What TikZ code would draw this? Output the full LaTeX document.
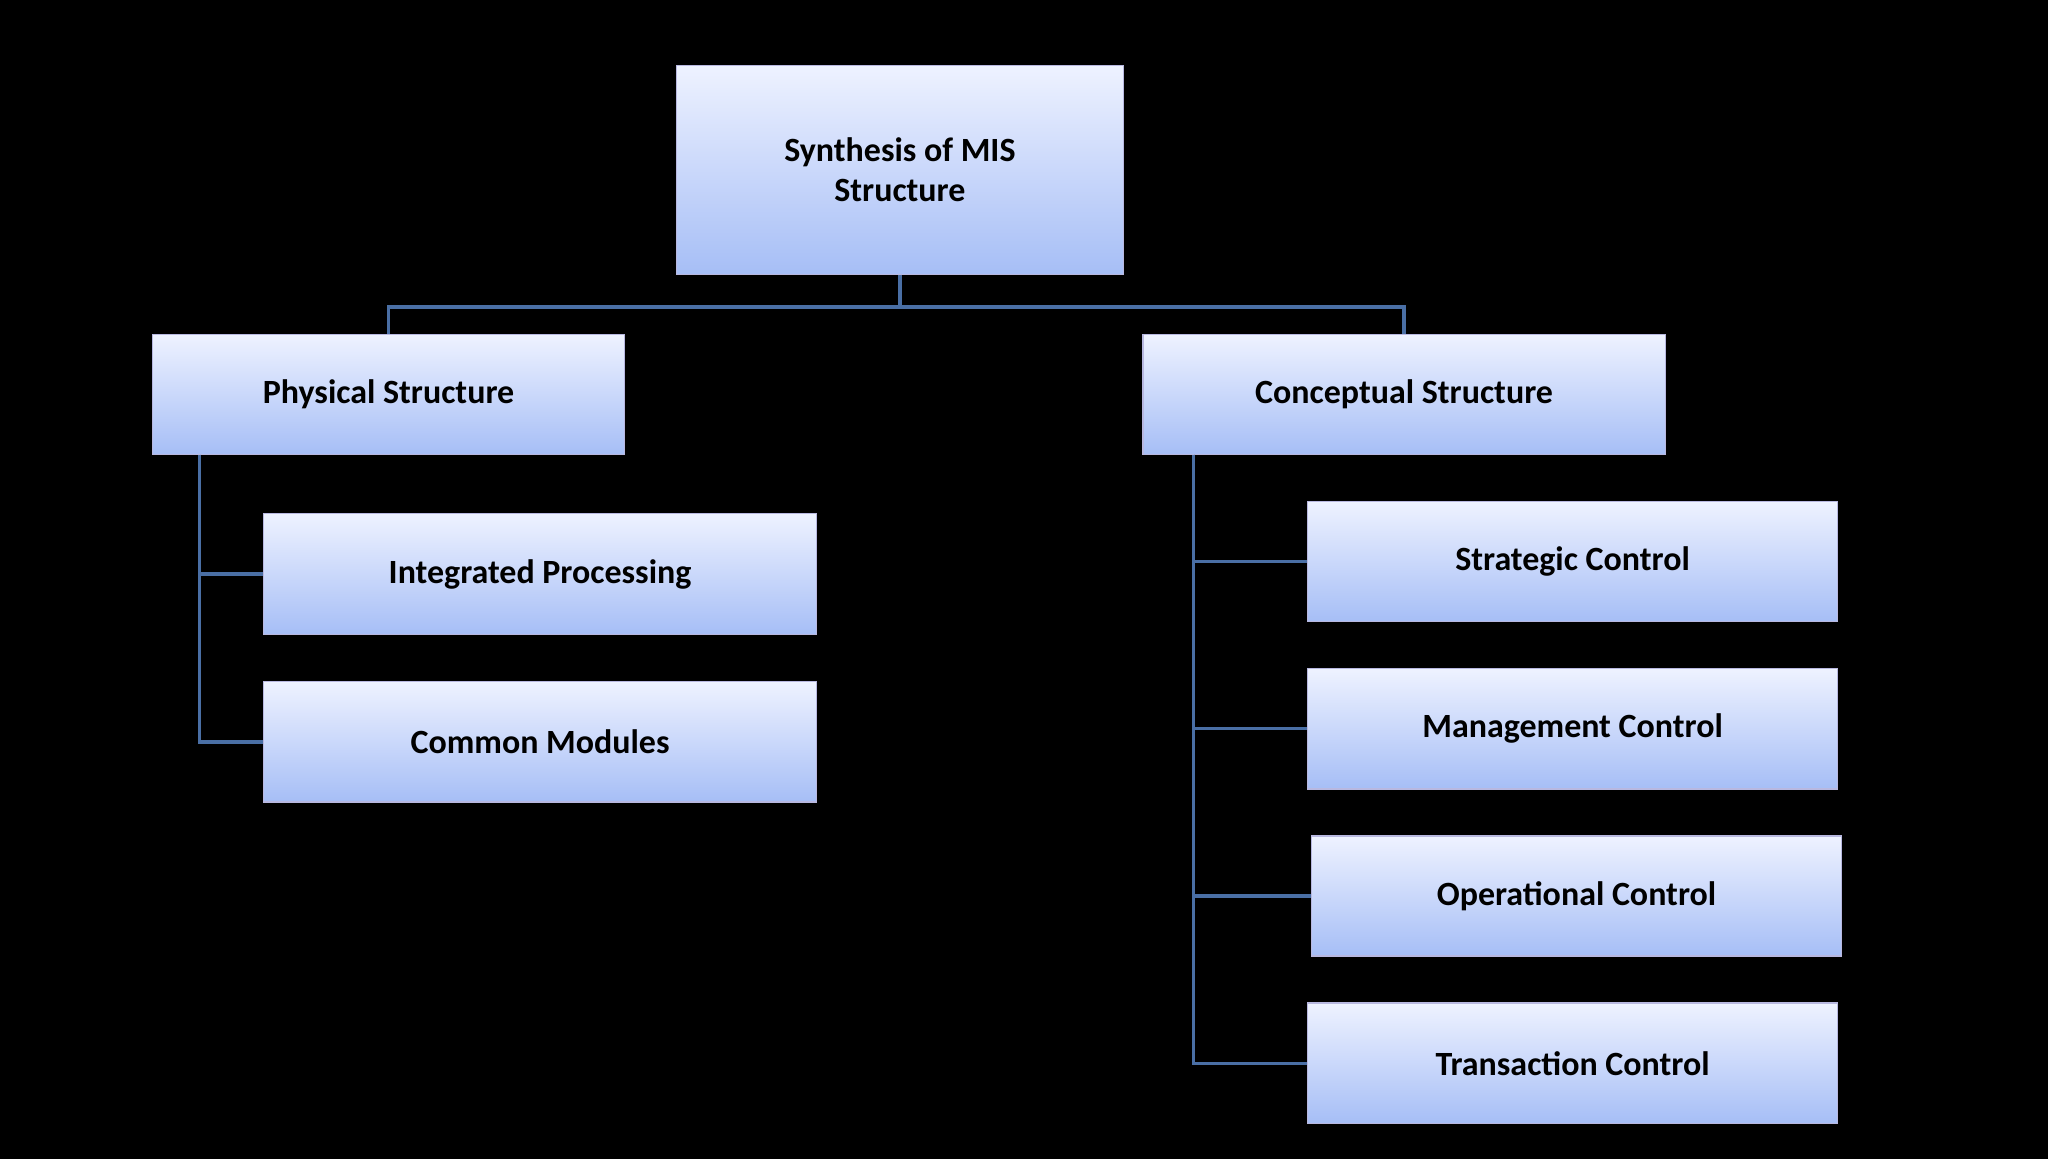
\documentclass[tikz,border=0pt]{standalone}
\usepackage{fontspec}
\setmainfont{Carlito}
\definecolor{topc}{HTML}{EEF2FF}
\definecolor{botc}{HTML}{A6BEF6}
\definecolor{linec}{HTML}{4A6FA5}
\begin{document}
\begin{tikzpicture}[x=1pt,y=-1pt,
  box/.style={draw=gray!60!blue!40,line width=1pt,top color=topc,bottom color=botc,
    font=\fontsize{26}{31}\selectfont\bfseries,align=center,inner sep=0pt},
  con/.style={draw=linec,line width=2.5pt}]
\fill[black] (0,0) rectangle (1568,887);
\newcommand\bx[6]{\node[box,minimum width=#4-#2,minimum height=#5-#3] (#1) at ({(#2+#4)/2},{(#3+#5)/2}) {#6};}
\bx{top}{518}{50}{860}{210}{Synthesis of MIS\\Structure}
\bx{phy}{117}{256}{478}{348}{Physical Structure}
\bx{con}{875}{256}{1275}{348}{Conceptual Structure}
\bx{int}{202}{393}{625}{486}{Integrated Processing}
\bx{com}{202}{522}{625}{614}{Common Modules}
\bx{str}{1001}{384}{1407}{476}{Strategic Control}
\bx{man}{1001}{512}{1407}{604}{Management Control}
\bx{ope}{1004}{640}{1410}{732}{Operational Control}
\bx{tra}{1001}{768}{1407}{860}{Transaction Control}
\coordinate (j) at (689,235);
\draw[con] (top.south) -- (j);
\draw[con] (j) -| (phy.north);
\draw[con] (j) -| (con.north);
\draw[con] (153,348) |- (int.west);
\draw[con] (153,348) |- (com.west);
\draw[con] (914,348) |- (str.west);
\draw[con] (914,348) |- (man.west);
\draw[con] (914,348) |- (ope.west);
\draw[con] (914,348) |- (tra.west);
\end{tikzpicture}
\end{document}
